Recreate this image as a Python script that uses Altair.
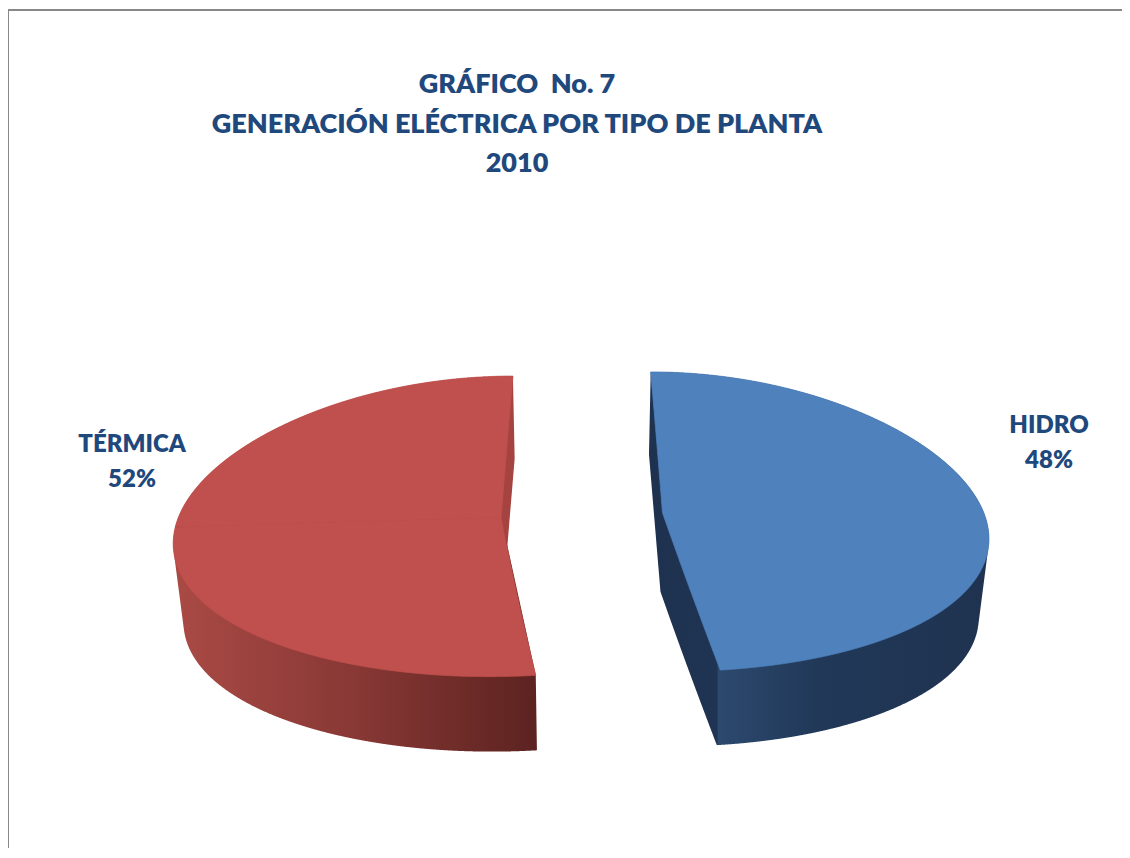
import math
import numpy as np
import pandas as pd
import altair as alt

# ---------------- data ----------------
categories = ["HIDRO", "TÉRMICA"]
shares = [48, 52]
top_colors = ["#4F81BD", "#C0504D"]
title_lines = ["GRÁFICO\u00a0 No. 7", "GENERACIÓN ELÉCTRICA POR TIPO DE PLANTA", "2010"]

# ---------------- layout / style (pixel space of the page) ----------------
W, H = 1114, 840
OFF = 8
X0, Y0 = 582.0, 515.0          # projected pie centre
A, B = 322.0, 150.0            # horizontal / vertical radius
KX, KZ = 0.146, 0.06           # pseudo perspective
SHRINK = 0.025                 # bottom face shrink
DEPTH = 79.0                   # thickness of the pie
EXPLODE = 0.251                # explosion (in radius units)
TEXT_COLOR = "#1F497D"
FONT = "Lato"
TEXT_WEIGHT = 800
TITLE_X, TITLE_Y0, TITLE_DY, TITLE_SIZE = 517, 93, 39.5, 27
LABEL_POS = {"HIDRO": (1049, 433), "TÉRMICA": (132, 452)}
LABEL_DY, LABEL_SIZE = 35, 24


def proj(X, Z, bottom=False):
    x = X0 + A * X * (1 - KX * Z)
    y = Y0 - B * Z * (1 - KZ * Z)
    if bottom:
        x = X0 + (x - X0) * (1 - SHRINK)
        y = Y0 + (y - Y0) * (1 - SHRINK) + DEPTH
    return x, y


def sector_world(a0, a1, ex, ez, n_arc=160, n_rad=24):
    r_out = np.linspace(0, 1, n_rad)[:-1]
    th = np.radians(np.linspace(a0, a1, n_arc))
    r_in = np.linspace(1, 0, n_rad)[1:-1]
    X = np.concatenate([ex + r_out * math.sin(math.radians(a0)),
                        ex + np.sin(th),
                        ex + r_in * math.sin(math.radians(a1))])
    Z = np.concatenate([ez + r_out * math.cos(math.radians(a0)),
                        ez + np.cos(th),
                        ez + r_in * math.cos(math.radians(a1))])
    return X, Z


def hull(px, py):
    pts = sorted(set(zip(np.round(px, 5), np.round(py, 5))))

    def cross(o, a, b):
        return (a[0] - o[0]) * (b[1] - o[1]) - (a[1] - o[1]) * (b[0] - o[0])

    lower, upper = [], []
    for p in pts:
        while len(lower) >= 2 and cross(lower[-2], lower[-1], p) <= 0:
            lower.pop()
        lower.append(p)
    for p in reversed(pts):
        while len(upper) >= 2 and cross(upper[-2], upper[-1], p) <= 0:
            upper.pop()
        upper.append(p)
    h = lower[:-1] + upper[:-1]
    return np.array([p[0] for p in h]), np.array([p[1] for p in h])


def columns(px, py, n=700):
    xs = np.unique(np.concatenate([np.linspace(px.min(), px.max(), n), px]))
    X1, Y1 = px, py
    X2, Y2 = np.roll(px, -1), np.roll(py, -1)
    lo, hi = [], []
    for x in xs:
        m = (np.minimum(X1, X2) <= x + 1e-9) & (np.maximum(X1, X2) >= x - 1e-9)
        ys = []
        for x1, y1, x2, y2 in zip(X1[m], Y1[m], X2[m], Y2[m]):
            if abs(x2 - x1) < 1e-9:
                ys += [y1, y2]
            else:
                ys.append(y1 + (y2 - y1) * (x - x1) / (x2 - x1))
        lo.append(min(ys))
        hi.append(max(ys))
    return pd.DataFrame({"x": xs, "y": lo, "y2": hi})


xscale = alt.Scale(domain=[OFF, OFF + W], nice=False, zero=False)
yscale = alt.Scale(domain=[OFF, OFF + H], nice=False, zero=False, reverse=True)


def area(df, **mark):
    return alt.Chart(df).mark_area(**mark).encode(
        x=alt.X("x:Q", scale=xscale, axis=None),
        y=alt.Y("y:Q", scale=yscale, axis=None),
        y2="y2:Q",
    )


def grad(stops):
    return alt.Gradient(gradient="linear", x1=0, x2=1, y1=0, y2=0,
                        stops=[alt.GradientStop(offset=float(o), color=c) for o, c in stops])


side_layers, top_layers = [], []
total = sum(shares)
start = 0.0
for cat, share, col in zip(categories, shares, top_colors):
    span = 360.0 * share / total
    a0, a1 = start, start + span
    start = a1
    bis = math.radians((a0 + a1) / 2)
    ex, ez = EXPLODE * math.sin(bis), EXPLODE * math.cos(bis)
    n_parts = max(1, math.ceil(span / 180.0 - 1e-9))
    edges = np.linspace(a0, a1, n_parts + 1)
    sides = []
    for k in range(n_parts):
        Xw, Zw = sector_world(edges[k], edges[k + 1], ex, ez)
        tx, ty = proj(Xw, Zw)
        bx, by = proj(Xw, Zw, bottom=True)
        hx, hy = hull(np.concatenate([tx, bx]), np.concatenate([ty, by]))
        side_df = columns(hx, hy)
        top_df = columns(tx, ty)
        lo_x, hi_x = hx.min(), hx.max()
        if cat == "HIDRO":
            cx, _ = proj(ex + math.sin(math.radians(a1)), ez + math.cos(math.radians(a1)), bottom=True)
            c = (cx - lo_x) / (hi_x - lo_x)
            stops = [(0, "#1E3250"), (c, "#1F3452"), (min(c + 0.005, 1), "#2C496E"),
                     (min(c + 0.3, 1), "#213858"), (1, "#1F3350")]
        else:
            if k == 0:
                stops = [(0, "#AA4A45"), (0.5, "#883835"), (1, "#5C2320")]
            else:
                stops = [(0, "#AA4A45"), (1, "#A4433F")]
        sides.append(area(side_df, color=grad(stops)))
        top_layers.append(area(top_df, fill=col, stroke=col, strokeWidth=0.8))
    side_layers += list(reversed(sides))

# frame
frame_df = pd.DataFrame({"k": [0]})
frame = [
    alt.Chart(frame_df).mark_rule(color="#888888", strokeWidth=2).encode(
        x=alt.value(0), x2=alt.value(W), y=alt.value(2)),
    alt.Chart(frame_df).mark_rule(color="#888888", strokeWidth=2).encode(
        x=alt.value(0), y=alt.value(1), y2=alt.value(H)),
]

# title
title_df = pd.DataFrame({
    "text": title_lines,
    "x": [TITLE_X] * len(title_lines),
    "y": [TITLE_Y0 + i * TITLE_DY for i in range(len(title_lines))],
})
title = alt.Chart(title_df).mark_text(
    font=FONT, fontWeight=TEXT_WEIGHT, fontSize=TITLE_SIZE, color=TEXT_COLOR,
    align="center", baseline="alphabetic",
).encode(x=alt.X("x:Q", scale=xscale, axis=None),
         y=alt.Y("y:Q", scale=yscale, axis=None), text="text:N")

# labels
lab_rows = []
for cat, share in zip(categories, shares):
    lx, ly = LABEL_POS[cat]
    lab_rows.append({"text": cat, "x": lx, "y": ly})
    lab_rows.append({"text": f"{share}%", "x": lx, "y": ly + LABEL_DY})
labels = alt.Chart(pd.DataFrame(lab_rows)).mark_text(
    font=FONT, fontWeight=TEXT_WEIGHT, fontSize=LABEL_SIZE, color=TEXT_COLOR,
    align="center", baseline="alphabetic",
).encode(x=alt.X("x:Q", scale=xscale, axis=None),
         y=alt.Y("y:Q", scale=yscale, axis=None), text="text:N")

chart = alt.layer(*side_layers, *top_layers, *frame, title, labels).properties(
    width=W, height=H, padding=0,
    autosize=alt.AutoSizeParams(type="none"),
    background="white",
).configure_view(stroke=None)

chart.save("out.html", embed_options={"renderer": "svg", "actions": False})
